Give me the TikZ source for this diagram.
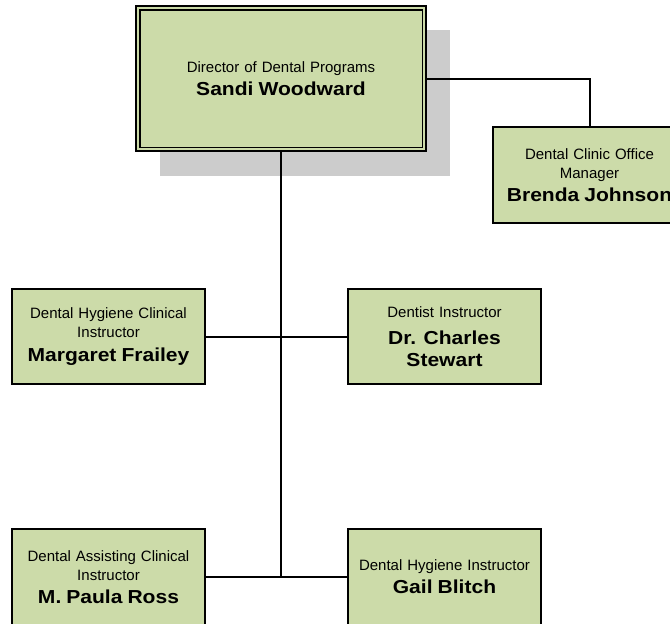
\documentclass[tikz,border=0pt]{standalone}
\usepackage{fontspec}
\setmainfont{Liberation Sans}
\newfontfamily\nmfam[FakeStretch=1.12]{Liberation Sans}
\definecolor{boxgreen}{HTML}{CCDBA9}
\definecolor{shadowgray}{HTML}{CCCCCC}
\newcommand{\nmfont}{\nmfam\fontsize{18.8}{22.7}\selectfont\bfseries}
\begin{document}
\begin{tikzpicture}[x=1pt,y=-1pt,
  box/.style={draw=black, line width=2pt, fill=boxgreen, minimum width=193pt,
    minimum height=95pt, inner sep=0pt, align=center,
    font=\fontsize{15}{19.3}\selectfont, text width=190pt},
  conn/.style={line width=2pt}]
\useasboundingbox (0,0) rectangle (670,624);
\clip (0,0) rectangle (670,624);
% shadow
\fill[shadowgray] (160,30) rectangle (450,176);
% director
\node[box, line width=1.6pt, minimum width=290pt, minimum height=145pt, text width=280pt] (dir) at (281,78.5)
  {Director of Dental Programs\\[4pt]{\nmfont Sandi Woodward}};
\draw[line width=1.6pt] ([shift={(4.5,4.5)}]dir.north west) rectangle ([shift={(-4.5,-4.5)}]dir.south east);
% others
\node[box, minimum height=96pt] (bren) at (589.5,175)
  {Dental Clinic Office\\Manager\\[4pt]{\nmfont Brenda Johnson}};
\node[box] (marg) at (108.5,336.5)
  {Dental Hygiene Clinical\\Instructor\\[4pt]{\nmfont Margaret Frailey}};
\node[box] (stew) at (444.5,336.5)
  {Dentist Instructor\\[4pt]{\nmfont Dr. Charles\\[3pt]Stewart}};
\node[box, minimum height=96pt] (paula) at (108.5,577)
  {Dental Assisting Clinical\\Instructor\\[4pt]{\nmfont M. Paula Ross}};
\node[box, minimum height=96pt] (gail) at (444.5,577)
  {Dental Hygiene Instructor\\[4pt]{\nmfont Gail Blitch}};
% connectors
\coordinate (jb) at (dir.south |- paula.east);
\draw[conn] (dir.east) -| (bren.north);
\draw[conn] (dir.south) -- (jb);
\draw[conn] (marg.east) -- (stew.west);
\draw[conn] (paula.east) -- (gail.west);
\end{tikzpicture}
\end{document}
